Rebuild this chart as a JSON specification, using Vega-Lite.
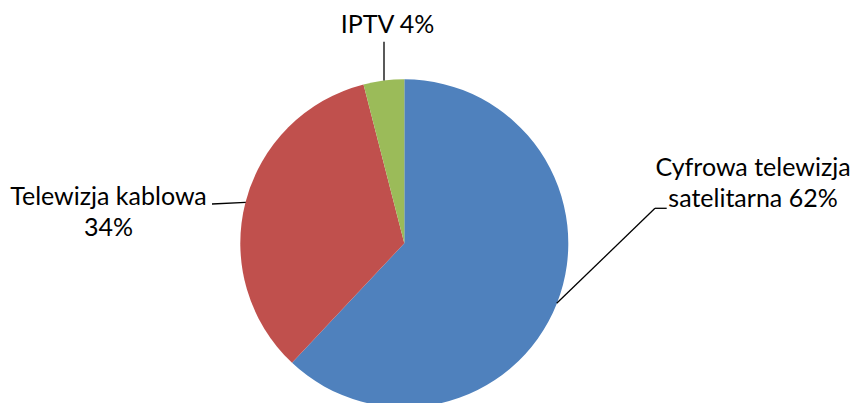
{
  "$schema": "https://vega.github.io/schema/vega-lite/v6.json",
  "width": 851,
  "height": 403,
  "autosize": {"type": "none"},
  "padding": 0,
  "background": "white",
  "config": {"view": {"stroke": null}},
  "datasets": {
    "slices": [
      {"category": "Cyfrowa telewizja satelitarna", "value": 62},
      {"category": "Telewizja kablowa", "value": 34},
      {"category": "IPTV", "value": 4}
    ],
    "leaders": [
      {"x": -20.3, "y": 201.6, "x2": -20.3, "y2": 162.7},
      {"x": -192.3, "y": 39.3, "x2": -158.6, "y2": 41},
      {"x": 262.4, "y": 35, "x2": 250.7, "y2": 35},
      {"x": 250.7, "y": 35, "x2": 152.4, "y2": -60}
    ],
    "labels": [
      {"label": ["IPTV 4%"], "x": -16.8, "y": 210.3},
      {"label": ["Telewizja kablowa", "34%"], "x": -295.8, "y": 38.3},
      {"label": ["Cyfrowa telewizja", "satelitarna 62%"], "x": 348.7, "y": 67.3}
    ]
  },
  "layer": [
    {
      "data": {"name": "slices"},
      "mark": {"type": "arc", "outerRadius": 164, "stroke": null},
      "encoding": {
        "x": {"datum": 0, "type": "quantitative", "scale": {"domain": [-404.3, 446.7], "nice": false, "zero": false}, "axis": null},
        "y": {"datum": 0, "type": "quantitative", "scale": {"domain": [-159.7, 243.3], "nice": false, "zero": false}, "axis": null},
        "theta": {"field": "value", "type": "quantitative", "stack": true},
        "order": {"field": "value", "sort": "descending"},
        "color": {
          "field": "category",
          "type": "nominal",
          "scale": {
            "domain": ["Cyfrowa telewizja satelitarna", "Telewizja kablowa", "IPTV"],
            "range": ["#4F81BD", "#C0504D", "#9BBB59"]
          },
          "legend": null
        }
      }
    },
    {
      "data": {"name": "leaders"},
      "mark": {"type": "rule", "color": "black", "strokeWidth": 1.3},
      "encoding": {
        "x": {"field": "x", "type": "quantitative", "axis": null},
        "y": {"field": "y", "type": "quantitative", "axis": null},
        "x2": {"field": "x2"},
        "y2": {"field": "y2"}
      }
    },
    {
      "data": {"name": "labels"},
      "mark": {"type": "text", "font": "Lato", "fontSize": 25, "align": "center", "baseline": "alphabetic", "lineHeight": 31, "color": "black"},
      "encoding": {
        "x": {"field": "x", "type": "quantitative", "axis": null},
        "y": {"field": "y", "type": "quantitative", "axis": null},
        "text": {"field": "label"}
      }
    }
  ],
  "resolve": {"scale": {"x": "shared", "y": "shared"}}
}
